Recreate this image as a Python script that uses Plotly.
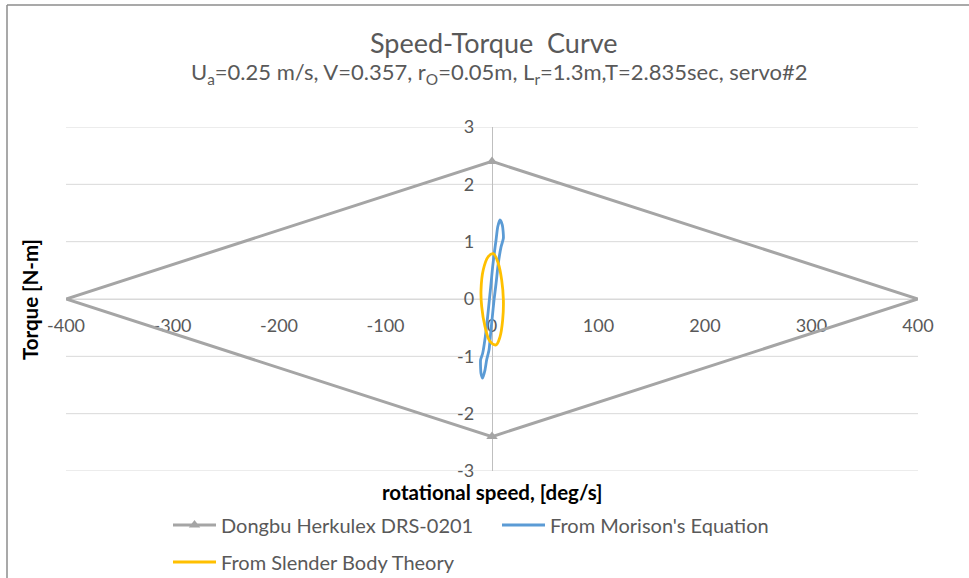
import plotly.graph_objects as go

# ---- data ----
speed_ticks = [-400, -300, -200, -100, 0, 100, 200, 300, 400]
torque_ticks = [-3, -2, -1, 0, 1, 2, 3]

dongbu_speed = [-400, 0, 400, 0, -400]
dongbu_torque = [0, 2.4, 0, -2.4, 0]

morison_speed = [7.5, 9.7, 10.7, 8.5, 5.9, 3.8, 1.9, 0.3, -1.3, -2.8, -5.0, -6.6, -8.8,
                 -10.3, -10.7, -8.8, -6.3, -4.1, -2.5, -0.9, 0.6, 2.5, 3.8, 5.4, 7.5]
morison_torque = [1.38, 1.29, 1.06, 0.91, 0.62, 0.27, -0.02, -0.31, -0.60, -0.89, -1.06, -1.24, -1.38,
                  -1.30, -1.06, -0.95, -0.66, -0.31, -0.02, 0.27, 0.56, 0.85, 1.03, 1.26, 1.38]

slender_speed = [1.3, 5.9, 9.1, 10.7, 10.0, 7.5, 3.8, -1.9, -6.6, -9.7, -10.3, -8.2, -3.5, 1.3]
slender_torque = [0.79, 0.62, 0.33, -0.02, -0.37, -0.66, -0.80, -0.74, -0.48, -0.13, 0.16, 0.51, 0.74, 0.79]

GRAY = "#A5A5A5"
BLUE = "#5B9BD5"
YELLOW = "#FFC000"
TXT = "#595959"
GRID = "#D9D9D9"
FONT = "Lato"

fig = go.Figure()

# Dongbu envelope (lines)
fig.add_trace(go.Scatter(x=dongbu_speed, y=dongbu_torque, mode="lines",
                         line=dict(color=GRAY, width=3), showlegend=False,
                         hoverinfo="skip"))
# Dongbu peak markers (legend entry shows line + triangle)
peak_x = [dongbu_speed[1], None, dongbu_speed[3]]
peak_y = [dongbu_torque[1], None, dongbu_torque[3]]
fig.add_trace(go.Scatter(x=peak_x, y=peak_y, mode="lines+markers",
                         name="Dongbu Herkulex DRS-0201",
                         line=dict(color=GRAY, width=3),
                         marker=dict(symbol="triangle-up", size=10, color=GRAY),
                         connectgaps=False, legend="legend"))
fig.add_trace(go.Scatter(x=morison_speed, y=morison_torque, mode="lines",
                         name="From Morison's Equation",
                         line=dict(color=BLUE, width=2.8, shape="spline", smoothing=0.6),
                         legend="legend"))
fig.add_trace(go.Scatter(x=slender_speed, y=slender_torque, mode="lines",
                         name="From Slender Body Theory",
                         line=dict(color=YELLOW, width=2.8, shape="spline", smoothing=1.0),
                         legend="legend2"))

ML, MR, MT, MB = 66, 51, 127, 107
W, H = 969, 578
PW, PH = W - ML - MR, H - MT - MB

def px_x(p):
    return (p - ML) / PW

def px_y(p):
    return (H - MB - p) / PH

fig.update_layout(
    width=W, height=H,
    margin=dict(l=ML, r=MR, t=MT, b=MB, autoexpand=False),
    paper_bgcolor="white", plot_bgcolor="white",
    font=dict(family=FONT, color=TXT),
    xaxis=dict(range=[-400, 400], tickvals=speed_ticks, ticktext=[str(v) for v in speed_ticks],
               showgrid=False, zeroline=False, showline=True, linecolor=GRID, linewidth=1,
               anchor="free", position=0.5, ticks="", ticklabelstandoff=10,
               tickfont=dict(family=FONT, size=18, color=TXT), layer="below traces",
               automargin=False, fixedrange=True),
    yaxis=dict(range=[-3, 3], tickvals=torque_ticks, ticktext=[str(v) for v in torque_ticks],
               showgrid=False, zeroline=False,
               showline=True, linecolor="#BFBFBF", linewidth=1.3,
               anchor="free", position=0.5, ticks="", ticklabelstandoff=14,
               tickfont=dict(family=FONT, size=18, color=TXT), layer="below traces",
               automargin=False, fixedrange=True),
    legend=dict(orientation="h", x=px_x(168), xanchor="left", y=px_y(525), yanchor="middle",
                font=dict(family=FONT, size=20, color=TXT), itemwidth=43,
                entrywidth=271, entrywidthmode="pixels", bgcolor="rgba(0,0,0,0)"),
    legend2=dict(orientation="h", x=px_x(168), xanchor="left", y=px_y(562), yanchor="middle",
                 font=dict(family=FONT, size=20, color=TXT), itemwidth=43,
                 bgcolor="rgba(0,0,0,0)"),
    showlegend=True,
)

# horizontal gridlines at every torque tick (incl. the range edges)
for t in torque_ticks:
    fig.add_shape(type="line", xref="paper", yref="y", x0=0, x1=1, y0=t, y1=t,
                  line=dict(color=GRID, width=1), layer="below")

fig.add_annotation(text="Speed-Torque\u00a0 Curve", xref="paper", yref="paper",
                   x=px_x(494), y=px_y(42), xanchor="center", yanchor="middle",
                   showarrow=False, font=dict(family=FONT, size=27, color=TXT))
fig.add_annotation(text="U<sub>a</sub>=0.25 m/s, V=0.357, r<sub>O</sub>=0.05m, L<sub>r</sub>=1.3m,T=2.835sec, servo#2",
                   xref="paper", yref="paper", x=px_x(499), y=px_y(73),
                   xanchor="center", yanchor="middle", showarrow=False,
                   font=dict(family=FONT, size=22, color=TXT))
fig.add_annotation(text="<b>rotational speed, [deg/s]</b>", xref="paper", yref="paper",
                   x=px_x(493), y=px_y(492), xanchor="center", yanchor="middle",
                   showarrow=False, font=dict(family=FONT, size=20.5, color="#000000"))
fig.add_annotation(text="<b>Torque [N-m]</b>", xref="paper", yref="paper",
                   x=px_x(30), y=px_y(300), xanchor="center", yanchor="middle",
                   textangle=-90, showarrow=False, font=dict(family=FONT, size=20.5, color="#000000"))

# chart-area border (left and top edges visible)
fig.add_shape(type="line", xref="paper", yref="paper", x0=px_x(7), x1=px_x(7),
              y0=px_y(5), y1=px_y(600), line=dict(color="#8C8C8C", width=1.5))
fig.add_shape(type="line", xref="paper", yref="paper", x0=px_x(7), x1=px_x(990),
              y0=px_y(5), y1=px_y(5), line=dict(color="#8C8C8C", width=1.5))

fig.write_html("out.html", config={"displayModeBar": False})
